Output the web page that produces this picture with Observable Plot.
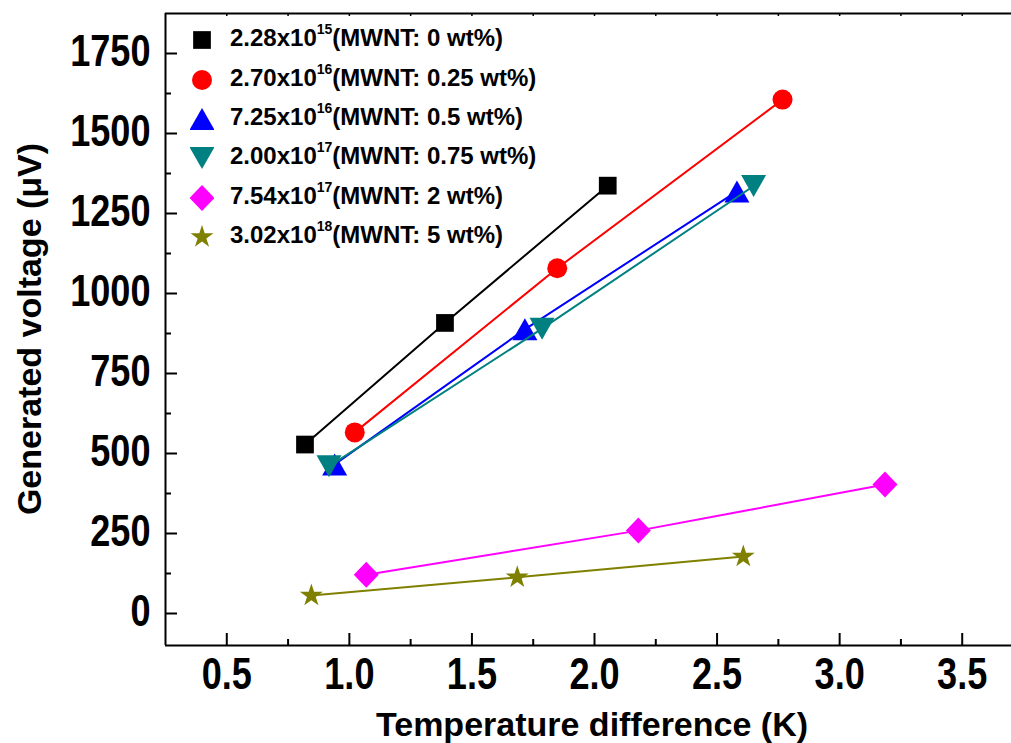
<!DOCTYPE html>
<html><head><meta charset="utf-8">
<script src="https://cdn.jsdelivr.net/npm/d3@7"></script>
<script src="https://cdn.jsdelivr.net/npm/@observablehq/plot@0.6"></script>
<style>
html,body{margin:0;padding:0;background:#fff;overflow:hidden;}
#wrap{position:relative;width:1011px;height:743px;}
#legend{position:absolute;left:190px;top:20.3px;font-family:"Liberation Sans",Arial,sans-serif;font-weight:bold;font-size:24px;color:#000;}
.row{position:relative;height:39.4px;white-space:nowrap;}
.row svg{position:absolute;left:0;top:0;}
.row .lbl{position:absolute;left:40px;top:-2px;line-height:40px;}
.row .sup{font-size:14px;position:relative;top:-12px;}
</style></head>
<body><div id="wrap"><div id="legend"></div></div>
<script>
// ---- data ----
const labelBase = ["2.28x10", "2.70x10", "7.25x10", "2.00x10", "7.54x10", "3.02x10"];
const labelExp = ["15", "16", "16", "17", "17", "18"];
const labelWt = ["0", "0.25", "0.5", "0.75", "2", "5"];
const dT = [
  [0.819, 1.390, 2.054],
  [1.022, 1.848, 2.767],
  [0.940, 1.716, 2.581],
  [0.917, 1.786, 2.649],
  [1.069, 2.179, 3.185],
  [0.845, 1.685, 2.607]
];
const voltage = [
  [528, 908, 1337],
  [566, 1079, 1606],
  [466, 888, 1319],
  [460, 890, 1336],
  [121, 259, 403],
  [56, 113, 178]
];
const colors = ["#000000", "#ff0000", "#0000ff", "#008080", "#ff00ff", "#808000"];
const symbolNames = ["square", "circle", "triangle", "triangle-down", "diamond", "star"];
const xMajor = [0.5, 1.0, 1.5, 2.0, 2.5, 3.0, 3.5];
const xMinor = [0.75, 1.25, 1.75, 2.25, 2.75, 3.25];
const yMajor = [0, 250, 500, 750, 1000, 1250, 1500, 1750];
const yMinor = [125, 375, 625, 875, 1125, 1375, 1625];
const xDomain = [0.25, 3.75];
const yDomain = [-100, 1875];

// ---- layout ----
const W = 1011, H = 743, mL = 165, mR = 0, mT = 13, mB = 98;
const plotW = W - mL - mR, plotH = H - mT - mB;

// ---- symbols ----
const S = Math.sqrt, PI = Math.PI;
const triUp = {draw(ctx, size) {const r = S(size / PI), w = 1.25 * r, h = 1.1 * r;
  ctx.moveTo(0, -h); ctx.lineTo(w, h); ctx.lineTo(-w, h); ctx.closePath();}};
const triDown = {draw(ctx, size) {const r = S(size / PI), w = 1.25 * r, h = 1.1 * r;
  ctx.moveTo(0, h); ctx.lineTo(w, -h); ctx.lineTo(-w, -h); ctx.closePath();}};
const diamond = {draw(ctx, size) {const r = S(size / PI), a = 1.25 * r, b = 1.3 * r;
  ctx.moveTo(0, -b); ctx.lineTo(a, 0); ctx.lineTo(0, b); ctx.lineTo(-a, 0); ctx.closePath();}};
const symbolMap = {square: d3.symbolSquare, circle: d3.symbolCircle, triangle: triUp,
  "triangle-down": triDown, diamond: diamond, star: d3.symbolStar};
const radius = {square: 10, circle: 10, triangle: 10, "triangle-down": 10, diamond: 10, star: 7.2};

const font = '"Liberation Sans", Arial, sans-serif';
const marks = [];
// frame (left, bottom, top)
marks.push(Plot.ruleX([xDomain[0]], {stroke: "#000", strokeWidth: 2}));
marks.push(Plot.ruleY(yDomain, {stroke: "#000", strokeWidth: 2}));
// inward ticks
marks.push(Plot.ruleX(xMajor, {stroke: "#000", strokeWidth: 2, insetTop: plotH - 12}));
marks.push(Plot.ruleX(xMinor, {stroke: "#000", strokeWidth: 2, insetTop: plotH - 6}));
marks.push(Plot.ruleX([...xMajor, ...xMinor], {stroke: "#000", strokeWidth: 1.5, insetBottom: plotH - 3}));
marks.push(Plot.ruleY(yMajor, {stroke: "#000", strokeWidth: 2, insetRight: plotW - 12}));
marks.push(Plot.ruleY(yMinor, {stroke: "#000", strokeWidth: 2, insetRight: plotW - 6}));
// tick labels
marks.push(Plot.axisX(xMajor, {anchor: "bottom", tickSize: 0, tickPadding: 12, fontSize: 44, fontWeight: "bold",
  fontFamily: font, tickFormat: d => d.toFixed(1), label: null}));
marks.push(Plot.axisY(yMajor, {anchor: "left", tickSize: 0, tickPadding: 15, dy: -2, fontSize: 44, fontWeight: "bold",
  fontFamily: font, tickFormat: d => String(d), label: null}));
// series
labelBase.forEach((_, i) => {
  const data = dT[i].map((x, j) => ({x, y: voltage[i][j]}));
  marks.push(Plot.line(data, {x: "x", y: "y", stroke: colors[i], strokeWidth: 2}));
  marks.push(Plot.dot(data, {x: "x", y: "y", symbol: symbolMap[symbolNames[i]], r: radius[symbolNames[i]],
    fill: colors[i], stroke: "none"}));
});

const plot = Plot.plot({
  width: W, height: H,
  marginLeft: mL, marginRight: mR, marginTop: mT, marginBottom: mB,
  x: {domain: xDomain, range: [mL, 1023]},
  y: {domain: yDomain},
  style: {fontFamily: font, background: "white", color: "#000"},
  marks
});
document.getElementById("wrap").prepend(plot);

// condense tick labels (narrow bold face)
d3.select(plot).selectAll('g[aria-label$="tick label"] text').each(function() {
  const len = this.getComputedTextLength();
  if (len > 0) { this.setAttribute("textLength", (len * 0.82).toFixed(1)); this.setAttribute("lengthAdjust", "spacingAndGlyphs"); }
});

// axis titles
const yr = plot.scale("y").range;
const svg = d3.select(plot);
svg.append("text").attr("x", (mL + 1019) / 2).attr("y", yr[0] + 91)
  .attr("text-anchor", "middle").attr("font-family", font).attr("font-weight", "bold").attr("font-size", 34)
  .attr("fill", "#000").text("Temperature difference (K)");
svg.append("text").attr("transform", `translate(41,${(yr[0] + yr[1]) / 2}) rotate(-90)`)
  .attr("text-anchor", "middle").attr("font-family", font).attr("font-weight", "bold").attr("font-size", 34)
  .attr("fill", "#000").text("Generated voltage (\u03bcV)");

// legend
const legend = d3.select("#legend");
labelBase.forEach((b, i) => {
  const row = legend.append("div").attr("class", "row");
  const s = row.append("svg").attr("width", 24).attr("height", 40);
  const r = radius[symbolNames[i]];
  s.append("path").attr("transform", "translate(12,20)").attr("fill", colors[i])
    .attr("d", d3.symbol(symbolMap[symbolNames[i]], PI * r * r)());
  const lbl = row.append("span").attr("class", "lbl");
  lbl.append("span").text(b);
  lbl.append("span").attr("class", "sup").text(labelExp[i]);
  lbl.append("span").text(`(MWNT: ${labelWt[i]} wt%)`);
});
</script>
</body></html>
